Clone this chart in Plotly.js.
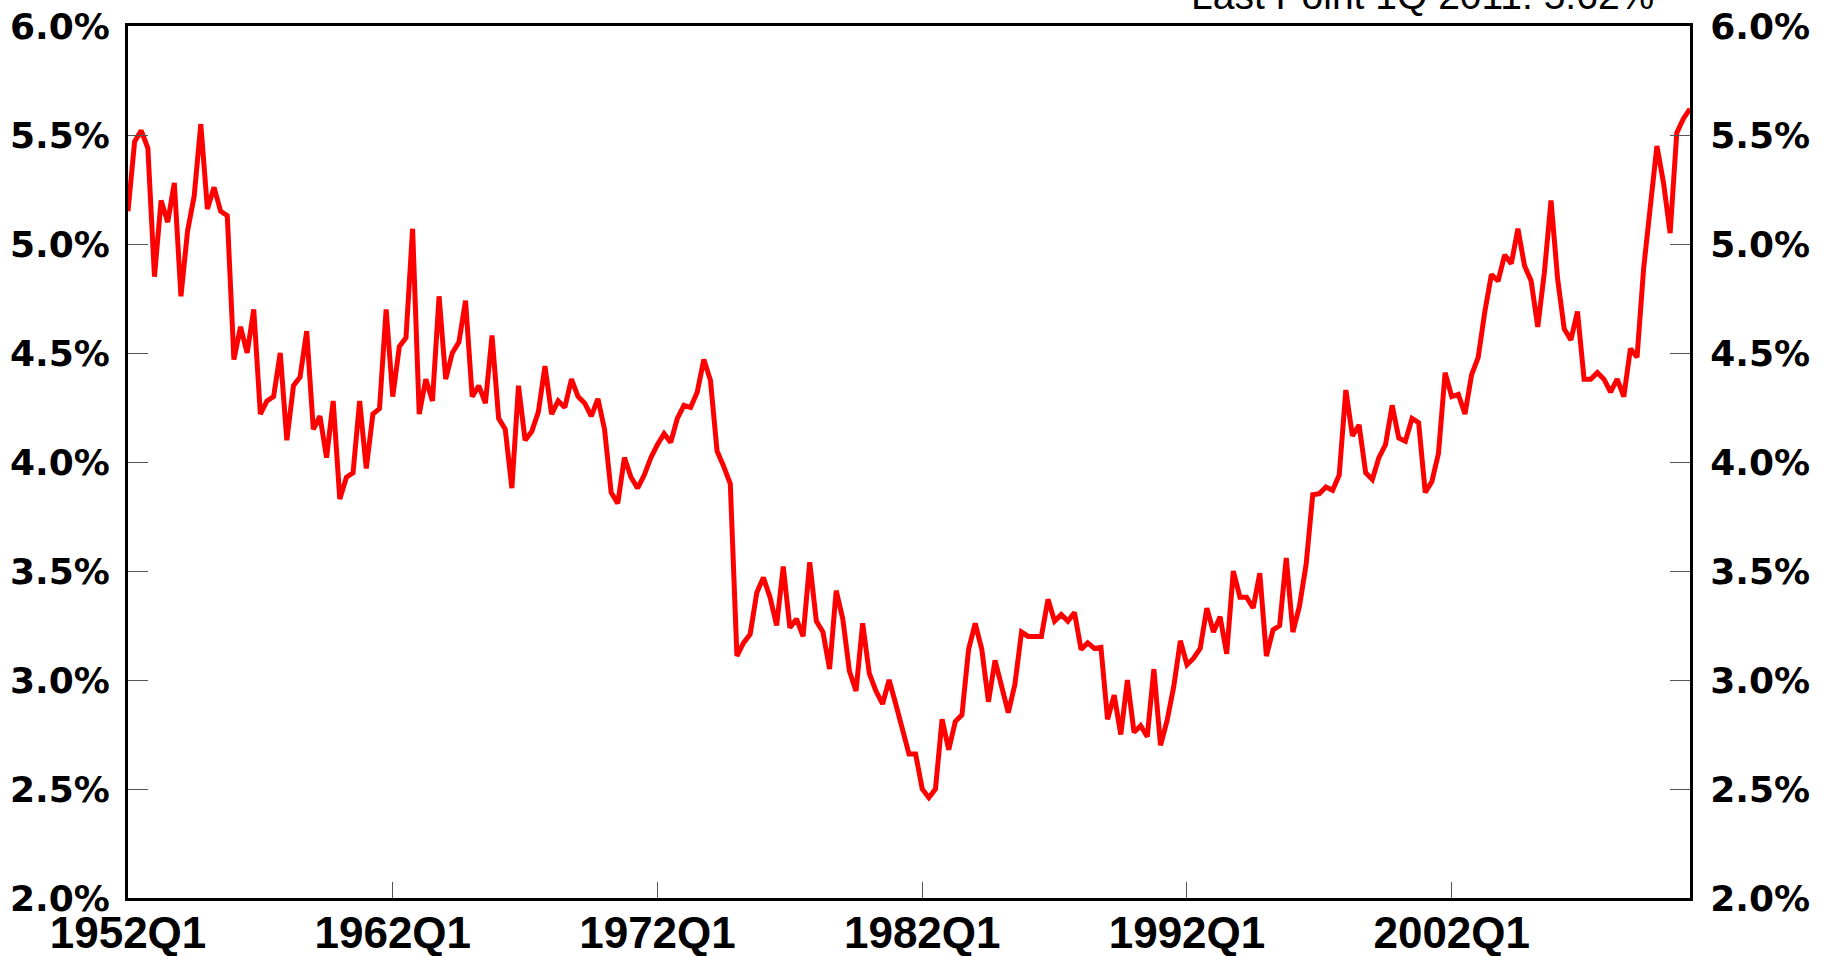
<!DOCTYPE html>
<html>
<head>
<meta charset="utf-8">
<script src="https://cdn.plot.ly/plotly-3.0.1.min.js"></script>
<style>
html,body{margin:0;padding:0;background:#fff;}
#chart{width:1829px;height:956px;}
</style>
</head>
<body>
<div id="chart"></div>
<script>
// Quarterly series, 1952Q1 .. 2011Q1 (percent)
const startYear = 1952;
const values = [
5.15,5.47,5.52,5.44,4.85,5.20,5.10,5.28,4.76,5.06,
5.22,5.55,5.16,5.26,5.15,5.13,4.47,4.62,4.50,4.70,
4.22,4.28,4.30,4.50,4.10,4.35,4.39,4.60,4.15,4.21,
4.02,4.28,3.83,3.93,3.95,4.28,3.97,4.22,4.245,4.70,
4.30,4.53,4.57,5.07,4.22,4.38,4.28,4.76,4.38,4.50,
4.55,4.74,4.30,4.35,4.27,4.58,4.20,4.15,3.88,4.35,
4.10,4.14,4.23,4.44,4.22,4.28,4.25,4.38,4.30,4.27,
4.21,4.29,4.15,3.86,3.81,4.02,3.93,3.88,3.94,4.02,
4.08,4.13,4.09,4.20,4.26,4.25,4.32,4.47,4.375,4.05,
3.98,3.90,3.11,3.17,3.21,3.40,3.47,3.38,3.25,3.52,
3.24,3.28,3.20,3.54,3.27,3.22,3.05,3.41,3.28,3.04,
2.95,3.26,3.03,2.95,2.89,3.00,2.89,2.78,2.66,2.66,
2.50,2.46,2.50,2.82,2.68,2.81,2.84,3.14,3.26,3.14,
2.90,3.09,2.98,2.85,2.98,3.22,3.20,3.20,3.20,3.37,
3.27,3.30,3.27,3.31,3.14,3.17,3.145,3.15,2.82,2.93,
2.75,3.00,2.76,2.79,2.74,3.05,2.70,2.815,2.97,3.18,
3.07,3.10,3.145,3.33,3.22,3.29,3.12,3.50,3.38,3.38,
3.33,3.49,3.11,3.23,3.25,3.56,3.22,3.34,3.53,3.85,
3.855,3.885,3.87,3.94,4.33,4.12,4.17,3.95,3.92,4.02,
4.08,4.26,4.11,4.095,4.20,4.18,3.86,3.91,4.04,4.41,
4.30,4.31,4.22,4.40,4.48,4.69,4.86,4.83,4.95,4.91,
5.07,4.90,4.83,4.62,4.87,5.20,4.84,4.61,4.56,4.69,
4.38,4.38,4.41,4.38,4.32,4.38,4.30,4.52,4.48,4.89,
5.15,5.45,5.28,5.05,5.51,5.575,5.62
];
const quarters = values.map((_, i) => (startYear + Math.floor(i / 4)) + 'Q' + (i % 4 + 1));
const xTickLabels = ['1952Q1','1962Q1','1972Q1','1982Q1','1992Q1','2002Q1'];
const yTickVals = [2.0,2.5,3.0,3.5,4.0,4.5,5.0,5.5,6.0];
const yTickText = ['2.0%','2.5%','3.0%','3.5%','4.0%','4.5%','5.0%','5.5%','6.0%'];
const titleText = 'Last Point 1Q 2011: 5.62%';

const yFont = {family:'DejaVu Sans, Liberation Sans, Arial, sans-serif', size:36, color:'#000', weight:'bold'};
const xFont = {family:'Liberation Sans, Arial, sans-serif', size:44, color:'#000', weight:'bold'};

const traces = [
  {x: quarters, y: values, type:'scatter', mode:'lines',
   line:{color:'#ff0000', width:5}, hoverinfo:'x+y', showlegend:false, cliponaxis:false},
  {x: quarters, y: values, type:'scatter', mode:'lines', yaxis:'y2',
   line:{color:'rgba(0,0,0,0)', width:0}, hoverinfo:'skip', showlegend:false}
];

const yCommon = {
  range:[2,6], tickmode:'array', tickvals:yTickVals, ticktext:yTickText,
  ticks:'inside', ticklen:20, tickwidth:1, tickcolor:'#555',
  showgrid:false, zeroline:false, showline:true, linecolor:'#000', linewidth:3,
  tickfont:yFont, fixedrange:true
};

const layout = {
  width:1829, height:956,
  margin:{l:128, r:139, t:26, b:58, pad:0},
  paper_bgcolor:'#fff', plot_bgcolor:'#fff',
  showlegend:false,
  xaxis:{
    type:'category', range:[0, values.length-1],
    tickmode:'array', tickvals:xTickLabels, ticktext:xTickLabels,
    ticks:'inside', ticklen:16, tickwidth:1, tickcolor:'#555',
    showgrid:false, zeroline:false, showline:true, mirror:true,
    linecolor:'#000', linewidth:3, tickfont:xFont, ticklabelstandoff:-6
  },
  yaxis:Object.assign({}, yCommon, {side:'left', ticklabelstandoff:8}),
  yaxis2:Object.assign({}, yCommon, {side:'right', overlaying:'y', ticklabelstandoff:10}),
  annotations:[{
    text:titleText, xref:'paper', yref:'paper', x:0.978, y:1.008,
    xanchor:'right', yanchor:'bottom', showarrow:false,
    font:{family:'Liberation Sans, Arial, sans-serif', size:39, color:'#000'}
  }]
};

Plotly.newPlot('chart', traces, layout, {displayModeBar:false, staticPlot:true});
</script>
</body>
</html>
